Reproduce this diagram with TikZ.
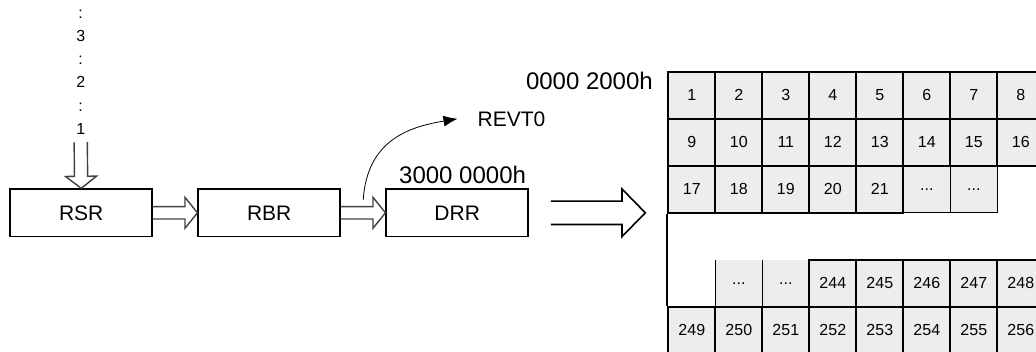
\documentclass[tikz,border=0pt]{standalone}
\usepackage{fontspec}
\setmainfont{Liberation Sans}
\usetikzlibrary{positioning,calc,arrows.meta}
\definecolor{cellgrey}{RGB}{237,237,237}
% open block arrow: [style]{tail}{tip}{shaft half width}{head half width}{head length}
\newcommand\hollowarrow[6][]{%
  \coordinate (ha) at (#2);
  \coordinate (hb) at (#3);
  \coordinate (hh) at ($(hb)!#6!(ha)$);
  \draw[#1] ($(ha)!#4!90:(hb)$) -- ($(hh)!#4!-90:(ha)$) -- ($(hh)!#5!-90:(ha)$)
    -- (hb) -- ($(hh)!#5!90:(ha)$) -- ($(hh)!#4!90:(ha)$) -- ($(ha)!#4!-90:(hb)$);
}

\begin{document}
\begin{tikzpicture}[
        x=1pt, y=-1pt,
        >={Latex[length=14pt,width=11pt]},
        reg/.style={draw, line width=1.5pt, minimum width=142pt, minimum height=47.5pt,
                    inner sep=0pt, font=\fontsize{21}{25}\selectfont},
        cellbold/.style={draw, line width=2pt, fill=cellgrey, minimum size=47pt,
                    inner sep=0pt, font=\fontsize{16}{19}\selectfont},
        cellthin/.style={cellbold, line width=0.8pt},
        dotcell/.style={fill=cellgrey, minimum size=47pt, inner sep=0pt, font=\fontsize{16}{19}\selectfont},
        addr/.style={inner sep=0pt, font=\fontsize{24}{28}\selectfont},
        pipe/.style={line width=1.4pt, draw=black!75, line join=miter},
        bigpipe/.style={line width=1.6pt, draw=black, line join=miter}
      ]
      \useasboundingbox (0,0) rectangle (1036,351);
      % serial port registers
      \node[reg] (rsr) at (81.2,212.8) {RSR};
      \node[reg, right=44.5pt of rsr] (rbr) {RBR};
      \node[reg, right=44.5pt of rbr] (drr) {DRR};
      \node[inner sep=0pt, anchor=south, align=center,
            font=\fontsize{16}{23.2}\selectfont] (seq) at (80.7,134.5) {:\\3\\:\\2\\:\\1};
      \node[addr, anchor=base west] (daddr) at (399,183.3) {3000 0000h};
      \node[inner sep=0pt, anchor=base west, font=\fontsize{21}{25}\selectfont] (revt) at (477.5,126) {REVT0};
      \node[addr, anchor=base east] (maddr) at (653,89) {0000 2000h};
      % memory buffer
      \node[cellthin] (d1) at ({691.8+47*5},{95.2+47*2}) {...};
      \node[cellthin] (d2) at ({691.8+47*6},{95.2+47*2}) {...};
      \node[dotcell] (d3) at ({691.8+47*1},{95.2+47*4}) {...};
      \node[dotcell] (d4) at ({691.8+47*2},{95.2+47*4}) {...};
      \draw[line width=0.8pt] (d3.north west) -- (d3.south west)
                              (d4.north west) -- (d4.south west);
      \foreach \n [evaluate=\n as \c using {int(mod(\n-1,8))},
                   evaluate=\n as \r using {int((\n-1)/8)}] in {1,...,21}
        \node[cellbold] (n\n) at ({691.8+47*\c},{95.2+47*\r}) {\n};
      \foreach \n [evaluate=\n as \c using {int(mod(\n-241,8))},
                   evaluate=\n as \r using {int(4+(\n-241)/8)}] in {244,...,256}
        \node[cellbold] (n\n) at ({691.8+47*\c},{95.2+47*\r}) {\n};
      \draw[line width=2pt] (n17.south west) -- (n249.north west);
      % arrows
      \hollowarrow[pipe]{[yshift=-7.8pt]seq.south}{rsr.north}{6.6pt}{15.5pt}{12pt}
      \hollowarrow[pipe]{rsr.east}{rbr.west}{6.2pt}{15.5pt}{12.5pt}
      \hollowarrow[pipe]{rbr.east}{drr.west}{6.2pt}{15.5pt}{12.5pt}
      \coordinate (feedout) at ([xshift=22pt]drr.east);
      \coordinate (bigtip) at ($(drr.east -| n1.west)+(-22pt,0pt)$);
      \hollowarrow[bigpipe]{feedout}{bigtip}{11.7pt}{23.8pt}{23.3pt}
      \coordinate (tap) at ($(rbr.east)!.5!(drr.west)+(0pt,13pt)$);
      \draw[->, line width=0.8pt] (tap) .. controls +(4pt,60pt) and +(-48pt,-8pt) .. ([xshift=-20pt]revt.west);
    \end{tikzpicture}
\end{document}
